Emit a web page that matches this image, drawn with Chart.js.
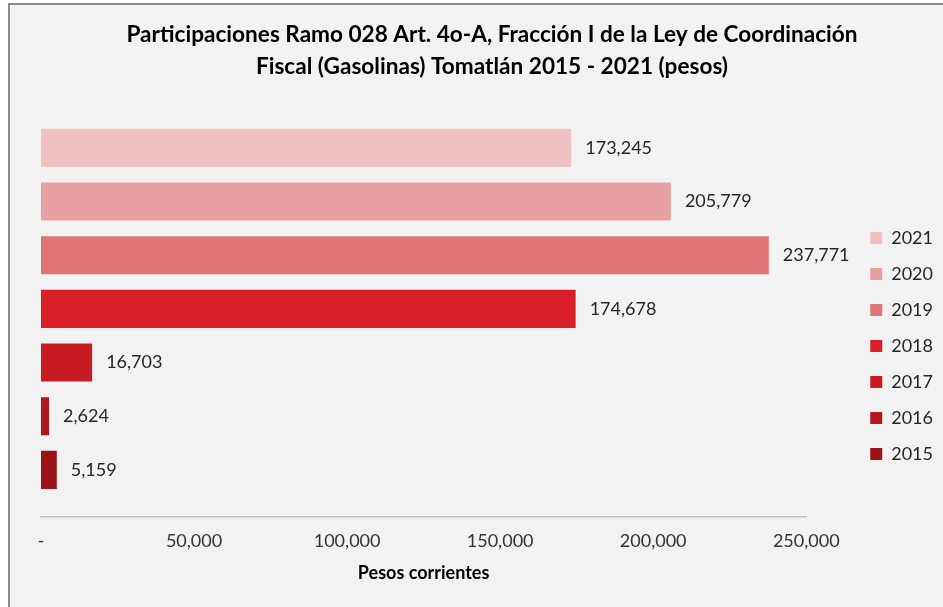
<!DOCTYPE html>
<html>
<head>
<meta charset="utf-8">
<script src="https://cdn.jsdelivr.net/npm/chart.js@4.4.1/dist/chart.umd.min.js"></script>
<style>
  html, body { margin: 0; padding: 0; background: #ffffff; overflow: hidden; }
  #frame {
    position: absolute; left: 8px; top: 3px;
    width: 1000px; height: 700px;
    border-left: 2px solid #8a8a8a; border-top: 2px solid #8a8a8a;
    background: #f2f2f2;
  }
  #chart { display: block; }
</style>
</head>
<body>
<div id="frame"><canvas id="chart" width="933" height="602"></canvas></div>
<script>
// data (pesos)
const years = ['2015', '2016', '2017', '2018', '2019', '2020', '2021'];
const amounts = [5159, 2624, 16703, 174678, 237771, 205779, 173245];
const barColors = ['#9c1219', '#b2171f', '#c81b24', '#da1f28', '#e07577', '#e8a1a2', '#efc1c2'];
const xTicks = [0, 50000, 100000, 150000, 200000, 250000];

const titleLines = [
    'Participaciones Ramo 028 Art. 4o-A, Fracción I de la Ley de Coordinación',
    'Fiscal (Gasolinas) Tomatlán 2015 - 2021 (pesos)'
];

const FONT = 'Lato, "Liberation Sans", sans-serif';

// one dataset per year so that every year gets its own legend entry
const datasets = years.map((year, i) => ({
    label: year,
    data: [{ x: amounts[i], y: i }],
    backgroundColor: barColors[i],
    borderWidth: 0
})).reverse();

// writes the value to the right of each bar
const valueLabels = {
    id: 'valueLabels',
    afterDatasetsDraw(chart) {
        const ctx = chart.ctx;
        ctx.save();
        ctx.font = '18px ' + FONT;
        ctx.fillStyle = '#262626';
        ctx.textAlign = 'left';
        ctx.textBaseline = 'middle';
        chart.data.datasets.forEach((ds, d) => {
            const meta = chart.getDatasetMeta(d);
            meta.data.forEach((bar, j) => {
                ctx.fillText(ds.data[j].x.toLocaleString('en-US'), bar.x + 14, bar.y);
            });
        });
        ctx.restore();
    }
};

new Chart(document.getElementById('chart'), {
    type: 'bar',
    data: { datasets: datasets },
    options: {
        indexAxis: 'y',
        responsive: false,
        animation: false,
        devicePixelRatio: 1,
        grouped: false,
        barPercentage: 0.71,
        categoryPercentage: 1,
        layout: { padding: { left: 31, right: 0, top: 0, bottom: 23 } },
        plugins: {
            title: {
                display: true,
                text: titleLines,
                color: '#000000',
                font: { family: FONT, size: 22.6, weight: 'bold', lineHeight: '32px' },
                padding: { top: 14, bottom: 38 }
            },
            legend: {
                position: 'right',
                fullSize: false,
                title: { display: true, text: ' ', font: { size: 12 }, padding: { top: 20, bottom: 20 } },
                labels: {
                    boxWidth: 12,
                    boxHeight: 12,
                    padding: 18,
                    color: '#262626',
                    font: { family: FONT, size: 18 }
                }
            },
            tooltip: { enabled: false }
        },
        scales: {
            x: {
                type: 'linear',
                min: xTicks[0],
                max: xTicks[xTicks.length - 1],
                afterBuildTicks: (axis) => { axis.ticks = xTicks.map(v => ({ value: v })); },
                grid: { display: false, drawTicks: false },
                border: { display: true, color: '#bfbfbf', width: 1.5 },
                ticks: {
                    padding: 14,
                    color: '#333333',
                    font: { family: FONT, size: 18 },
                    callback: (v) => v === 0 ? '-' : v.toLocaleString('en-US')
                },
                title: {
                    display: true,
                    text: 'Pesos corrientes',
                    color: '#000000',
                    font: { family: FONT, size: 18, weight: 'bold' },
                    padding: { top: -4, bottom: 0 }
                }
            },
            y: {
                type: 'linear',
                position: 'right',
                offset: false,
                min: -0.874,
                max: 6.5,
                afterBuildTicks: (axis) => { axis.ticks = years.map((y, i) => ({ value: i })); },
                afterFit: (axis) => { axis.width = 46; },
                grid: { display: false },
                border: { display: false },
                ticks: { display: false }
            }
        }
    },
    plugins: [valueLabels]
});
</script>
</body>
</html>
